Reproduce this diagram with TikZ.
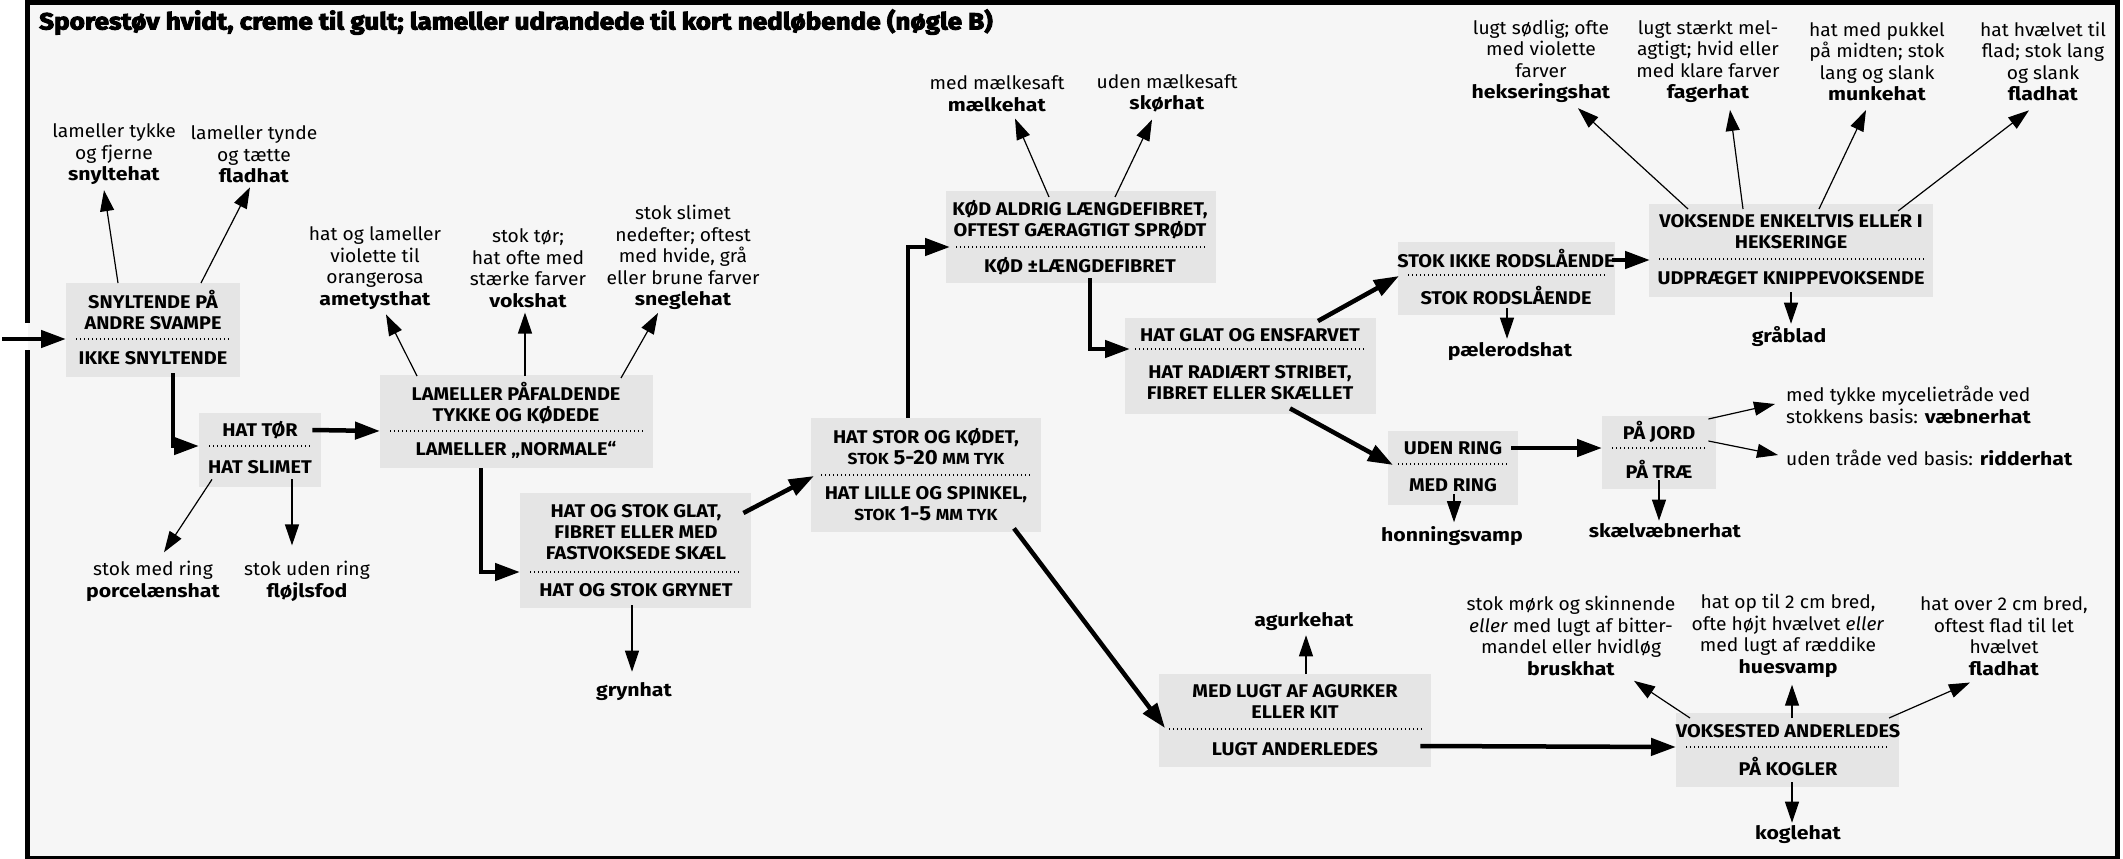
\documentclass[tikz,border=0pt]{standalone}
\usepackage{fontspec}
\setmainfont{Fira Sans}[UprightFeatures={FakeStretch=1.04}, BoldFeatures={FakeStretch=1.15}, ItalicFeatures={FakeStretch=1.04}]
\newfontfamily\boxfont{Fira Sans}[BoldFeatures={FakeStretch=1.08}]
\newfontfamily\titlefont{Fira Sans}[BoldFeatures={FakeBold=4,FakeStretch=1.11}]
\usetikzlibrary{arrows.meta,calc}
\definecolor{bgc}{HTML}{F6F6F6}
\definecolor{boxgray}{HTML}{E5E5E5}
\newcommand\smc[1]{{\fontsize{16}{21}\selectfont #1}}
\newcommand\bigdig[1]{{\fontsize{20.5}{21}\selectfont #1}}
\tikzset{
  boxst/.style={fill=boxgray, inner sep=0pt, anchor=north west},
  bt/.style={font=\boxfont\fontsize{18.4}{21}\selectfont\bfseries, align=center, inner sep=0pt},
  lab/.style={font=\fontsize{18.5}{21.5}\selectfont, align=center, inner sep=0pt},
  thickarr/.style={line width=4.5pt, -{Triangle[length=25pt,width=17pt]}},
  thinarr/.style={line width=1.2pt, -{Triangle[length=21pt,width=14pt]}},
  divline/.style={line width=1.1pt, dash pattern=on 1.1pt off 2.9pt}
}
\begin{document}
\begin{tikzpicture}[x=1pt,y=-1pt]
\useasboundingbox (0,0) rectangle (2123,859);
% background and frame
\fill[white] (0,0) rectangle (2123,859);
\fill[bgc] (28,4) rectangle (2117,857);
\draw[line width=5pt] (25,2.5) -- (2120,2.5);
\draw[line width=5pt] (2117.5,0) -- (2117.5,859);
\draw[line width=3pt] (25,857.5) -- (2120,857.5);
\draw[line width=5pt] (27.5,0) -- (27.5,323);
\draw[line width=5pt] (27.5,350) -- (27.5,859);

% title
\node[anchor=base west, inner sep=0pt] (title) at (39,29.5)
  {\titlefont\bfseries\fontsize{23.5}{23.5}\selectfont Sporestøv hvidt, creme til gult; lameller udrandede til kort nedløbende (nøgle B)};

% boxes
\node[boxst, minimum width=174pt, minimum height=94pt] (b1) at (66,283) {};
\node[boxst, minimum width=122pt, minimum height=74pt] (b2) at (199,413) {};
\node[boxst, minimum width=273pt, minimum height=93pt] (b3) at (380,375) {};
\node[boxst, minimum width=231pt, minimum height=115pt] (b4) at (520,493) {};
\node[boxst, minimum width=230pt, minimum height=114pt] (b5) at (811,418) {};
\node[boxst, minimum width=270pt, minimum height=92pt] (b6) at (946,191) {};
\node[boxst, minimum width=251pt, minimum height=96pt] (b7) at (1125,318) {};
\node[boxst, minimum width=217pt, minimum height=73pt] (b8) at (1398,242) {};
\node[boxst, minimum width=284pt, minimum height=93pt] (b9) at (1649,204) {};
\node[boxst, minimum width=272pt, minimum height=93pt] (b10) at (1159,674) {};
\node[boxst, minimum width=130pt, minimum height=74pt] (b11) at (1388,431) {};
\node[boxst, minimum width=114pt, minimum height=73pt] (b12) at (1602,416) {};
\node[boxst, minimum width=223pt, minimum height=74pt] (b13) at (1676,713) {};

% divider levels
\coordinate (b1d) at (0,339);
\coordinate (b2d) at (0,446);
\coordinate (b3d) at (0,431);
\coordinate (b4d) at (0,572);
\coordinate (b5d) at (0,475);
\coordinate (b6d) at (0,247);
\coordinate (b7d) at (0,349);
\coordinate (b8d) at (0,275);
\coordinate (b9d) at (0,259);
\coordinate (b10d) at (0,729);
\coordinate (b11d) at (0,464);
\coordinate (b12d) at (0,448);
\coordinate (b13d) at (0,747);
\foreach \b in {b1,b2,b3,b4,b5,b6,b7,b8,b9,b10,b11,b12,b13}{
  \draw[divline] ($(\b.west |- \b d)+(10,0)$) -- ($(\b.east |- \b d)+(-10,0)$);
}

% box texts
\node[bt] (b1a) at (153,310.5) {SNYLTENDE PÅ\\ANDRE SVAMPE};
\node[bt] (b1b) at (153,358) {IKKE SNYLTENDE};
\node[bt] (b2a) at (260,430) {HAT TØR};
\node[bt] (b2b) at (260,467) {HAT SLIMET};
\node[bt] (b3a) at (516,403) {LAMELLER PÅFALDENDE\\TYKKE OG KØDEDE};
\node[bt] (b3b) at (516,450) {LAMELLER „NORMALE“};
\node[bt] (b4a) at (636,532) {HAT OG STOK GLAT,\\FIBRET ELLER MED\\FASTVOKSEDE SKÆL};
\node[bt] (b4b) at (636,590) {HAT OG STOK GRYNET};
\node[bt] (b5a) at (926,446.5) {HAT STOR OG KØDET,\\\smc{STOK} \bigdig{5-20} \smc{MM TYK}};
\node[bt] (b5b) at (926,503.5) {HAT LILLE OG SPINKEL,\\\smc{STOK} \bigdig{1-5} \smc{MM TYK}};
\node[bt] (b6a) at (1080,219.5) {KØD ALDRIG LÆNGDEFIBRET,\\OFTEST GÆRAGTIGT SPRØDT};
\node[bt] (b6b) at (1080,266) {KØD ±LÆNGDEFIBRET};
\node[bt] (b7a) at (1250,335) {HAT GLAT OG ENSFARVET};
\node[bt] (b7b) at (1250,382.5) {HAT RADIÆRT STRIBET,\\FIBRET ELLER SKÆLLET};
\node[bt] (b8a) at (1506,259) {STOK IKKE RODSLÅENDE};
\node[bt] (b8b) at (1506,296) {STOK RODSLÅENDE};
\node[bt] (b9a) at (1791,232) {VOKSENDE ENKELTVIS ELLER I\\HEKSERINGE};
\node[bt] (b9b) at (1791,278) {UDPRÆGET KNIPPEVOKSENDE};
\node[bt] (b10a) at (1295,701.5) {MED LUGT AF AGURKER\\ELLER KIT};
\node[bt] (b10b) at (1295,749) {LUGT ANDERLEDES};
\node[bt] (b11a) at (1453,448) {UDEN RING};
\node[bt] (b11b) at (1453,485) {MED RING};
\node[bt] (b12a) at (1659,432) {PÅ JORD};
\node[bt] (b12b) at (1659,469) {PÅ TRÆ};
\node[bt] (b13a) at (1788,731) {VOKSESTED ANDERLEDES};
\node[bt] (b13b) at (1788,767) {PÅ KOGLER};

% labels
\node[lab] (lsnyl) at (114,154.5) {lameller tykke\\og fjerne\\\textbf{snyltehat}};
\node[lab] (lflad1) at (254,154.5) {lameller tynde\\og tætte\\\textbf{fladhat}};
\node[lab] (lporc) at (153,581.5) {stok med ring\\\textbf{porcelænshat}};
\node[lab] (lflojl) at (307,581.5) {stok uden ring\\\textbf{fløjlsfod}};
\node[lab] (lamet) at (375,268) {hat og lameller\\violette til\\orangerosa\\\textbf{ametysthat}};
\node[lab] (lvoks) at (528,268) {stok tør;\\hat ofte med\\stærke farver\\\textbf{vokshat}};
\node[lab] (lsnegl) at (683,257.5) {stok slimet\\nedefter; oftest\\med hvide, grå\\eller brune farver\\\textbf{sneglehat}};
\node[lab] (lgryn) at (634,692) {\textbf{grynhat}};
\node[lab] (lmaelk) at (997,93.5) {med mælkesaft\\\textbf{mælkehat}};
\node[lab] (lskor) at (1167,93.5) {uden mælkesaft\\\textbf{skørhat}};
\node[lab] (lheks) at (1541,61.5) {lugt sødlig; ofte\\med violette\\farver\\\textbf{hekseringshat}};
\node[lab] (lfager) at (1708,61.5) {lugt stærkt mel-\\agtigt; hvid eller\\med klare farver\\\textbf{fagerhat}};
\node[lab] (lmunk) at (1877,61.5) {hat med pukkel\\på midten; stok\\lang og slank\\\textbf{munkehat}};
\node[lab] (lflad2) at (2043,61.5) {hat hvælvet til\\flad; stok lang\\og slank\\\textbf{fladhat}};
\node[lab] (lgraa) at (1789,337) {\textbf{gråblad}};
\node[lab] (lpaele) at (1510,352) {\textbf{pælerodshat}};
\node[lab] (lhonn) at (1452,536) {\textbf{honningsvamp}};
\node[lab] (lskael) at (1665,531) {\textbf{skælvæbnerhat}};
\node[lab, anchor=west, align=left] (lvaeb) at (1786,405) {med tykke mycelietråde ved\\stokkens basis: \textbf{væbnerhat}};
\node[lab, anchor=west, align=left] (lridd) at (1786,458) {uden tråde ved basis: \textbf{ridderhat}};
\node[lab] (lagurk) at (1304,622) {\textbf{agurkehat}};
\node[lab] (lbrusk) at (1571,636) {stok mørk og skinnende\\\textit{eller} med lugt af bitter-\\mandel eller hvidløg\\\textbf{bruskhat}};
\node[lab] (lhue) at (1788,636) {hat op til 2 cm bred,\\ofte højt hvælvet \textit{eller}\\med lugt af ræddike\\\textbf{huesvamp}};
\node[lab] (lflad3) at (2004,636) {hat over 2 cm bred,\\oftest flad til let\\hvælvet\\\textbf{fladhat}};
\node[lab] (lkogle) at (1798,835) {\textbf{koglehat}};

% thick connectors
\coordinate (start) at (2,339);
\draw[thickarr] (start) -- (b1.west |- b1d);
\draw[thickarr] ($(b1.south west)+(107,-4)$) |- (b2.west |- b2d);
\draw[thickarr] ($(b2.east |- b2a)+(-9,0)$) -- (b3.west |- b3d);
\draw[thickarr] ($(b3.south west)+(101,0)$) |- (b4.west |- b4d);
\draw[thickarr] ($(b4.east |- b4a)+(-8,-19)$) -- ($(b5.west |- b5d)+(3,1)$);
\draw[thickarr] ($(b5.north west)+(97,0)$) |- ($(b6.west |- b6d)+(4,0)$);
\draw[thickarr] ($(b6.south west)+(144,-5)$) |- ($(b7.west |- b7d)+(5,0)$);
\draw[thickarr] ($(b7.north west)+(193,3)$) -- ($(b8.west |- b8d)+(1,1)$);
\draw[thickarr] ($(b7.south west)+(165,-6)$) -- ($(b11.west |- b11d)+(5,1)$);
\draw[thickarr] ($(b8.east |- b8a)+(-3,1)$) -- ($(b9.west |- b9d)+(1,1)$);
\draw[thickarr] ($(b11.east |- b11a)+(-7,0)$) -- (b12.west |- b12d);
\draw[thickarr] ($(b5.south west)+(203,-4)$) -- ($(b10.west |- b10d)+(6,-1)$);
\draw[thickarr] ($(b10.east |- b10b)+(-11,-3)$) -- (b13.west |- b13d);

% thin connectors
\draw[thinarr] ($(b1.north west)+(52,0)$) -- ($(lsnyl.south)+(-10,5)$);
\draw[thinarr] ($(b1.north west)+(135,0)$) -- ($(lflad1.south)+(-4,4)$);
\draw[thinarr] ($(b2.south west)+(13,-8)$) -- ($(lporc.north)+(11,-9)$);
\draw[thinarr] ($(b2.south west)+(93,-8)$) -- ($(b2.south west)+(93,58)$);
\draw[thinarr] ($(b3.north west)+(37,1)$) -- ($(lamet.south)+(11,5)$);
\draw[thinarr] ($(b3.north west)+(145,1)$) -- ($(lvoks.south)+(-3,5)$);
\draw[thinarr] ($(b3.north west)+(241,3)$) -- ($(lsnegl.south)+(-25,3)$);
\draw[thinarr] ($(b4.south west)+(112,-3)$) -- ($(lgryn.north)+(-2,-11)$);
\draw[thinarr] ($(b6.north west)+(103,6)$) -- ($(lmaelk.south)+(18,7)$);
\draw[thinarr] ($(b6.north west)+(169,6)$) -- ($(lskor.south)+(-15,7)$);
\draw[thinarr] ($(b9.north west)+(39,5)$) -- ($(lheks.south)+(37,5)$);
\draw[thinarr] ($(b9.north west)+(94,5)$) -- ($(lfager.south)+(22,7)$);
\draw[thinarr] ($(b9.north west)+(170,5)$) -- ($(lmunk.south)+(-11,9)$);
\draw[thinarr] ($(b9.north west)+(249,7)$) -- ($(lflad2.south)+(-14,9)$);
\draw[thinarr] ($(b9.south west)+(142,-5)$) -- ($(lgraa.north)+(2,-3)$);
\draw[thinarr] ($(b8.south west)+(109,-7)$) -- ($(lpaele.north)+(-3,-4)$);
\draw[thinarr] ($(b11.south west)+(66,-11)$) -- ($(lhonn.north)+(2,-4)$);
\draw[thinarr] ($(b12.south west)+(57,-9)$) -- ($(lskael.north)+(-6,-3)$);
\draw[thinarr] ($(b12.east |- b12a)+(-8,-13)$) -- ($(lvaeb.west)+(-11,-1)$);
\draw[thinarr] ($(b12.east |- b12a)+(-8,9)$) -- ($(lridd.west)+(-8,-3)$);
\draw[thinarr] ($(b10.north west)+(147,0)$) -- ($(lagurk.south)+(2,4)$);
\draw[thinarr] ($(b13.north west)+(14,5)$) -- ($(lbrusk.south)+(63,5)$);
\draw[thinarr] ($(b13.north west)+(116,5)$) -- ($(lhue.south)+(4,7)$);
\draw[thinarr] ($(b13.north west)+(213,5)$) -- ($(lflad3.south)+(-34,7)$);
\draw[thinarr] ($(b13.south west)+(116,-5)$) -- ($(lkogle.north)+(-6,-3)$);
\end{tikzpicture}
\end{document}
